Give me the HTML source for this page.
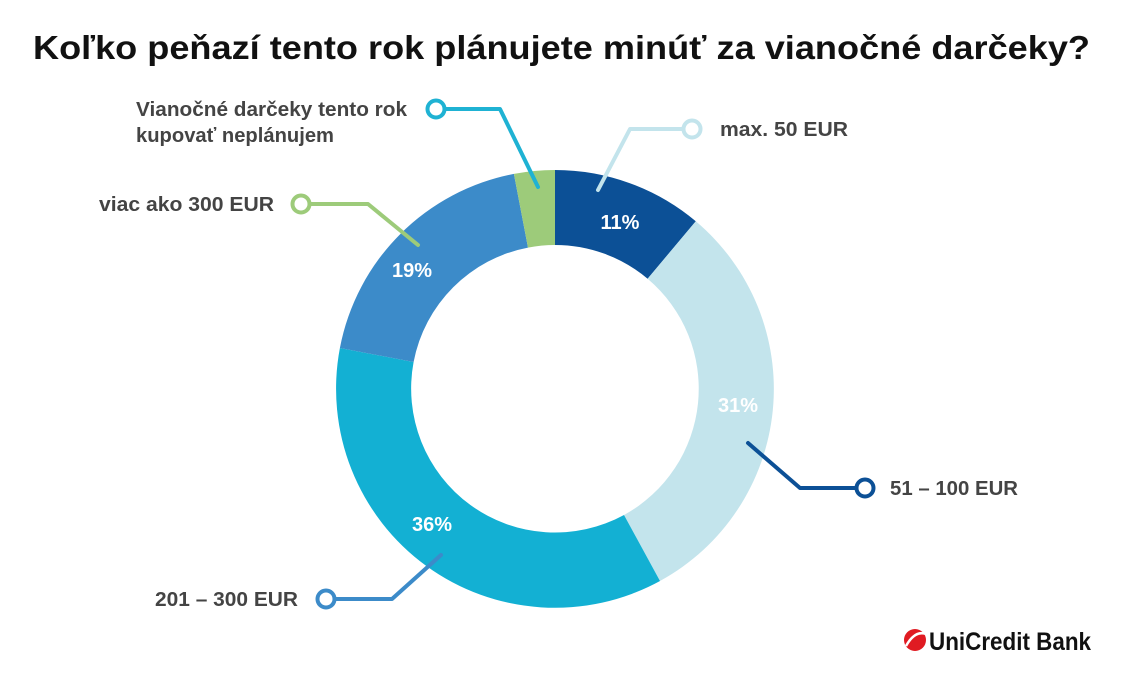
<!DOCTYPE html>
<html><head><meta charset="utf-8"><style>
html,body{margin:0;padding:0;background:#fff;}
body{width:1147px;height:679px;overflow:hidden;font-family:"Liberation Sans",sans-serif;}
</style></head><body>
<svg width="1147" height="679" xmlns="http://www.w3.org/2000/svg" font-family="Liberation Sans, sans-serif">
<text x="33" y="59" font-size="33" font-weight="bold" fill="#111" textLength="1057" lengthAdjust="spacingAndGlyphs">Koľko peňazí tento rok plánujete minúť za vianočné darčeky?</text>
<path d="M555,170 A219,219 0 0 1 695.8,221.3 L647.6,278.7 A144,144 0 0 0 555,245 Z" fill="#0c5096"/>
<path d="M695.8,221.3 A219,219 0 0 1 660,581 L624,515 A144,144 0 0 0 647.6,278.7 Z" fill="#c3e4ec"/>
<path d="M660,581 A219,219 0 0 1 339.9,348 L413.6,362 A144,144 0 0 0 624,515 Z" fill="#13b0d3"/>
<path d="M339.9,348 A219,219 0 0 1 513.9,173.9 L528,247.6 A144,144 0 0 0 413.6,362 Z" fill="#3c8bc9"/>
<path d="M513.9,173.9 A219,219 0 0 1 555,170 L555,245 A144,144 0 0 0 528,247.6 Z" fill="#9dcb7a"/>
<g font-size="20" font-weight="bold" fill="#fff" text-anchor="middle">
<text x="620" y="229">11%</text><text x="412" y="277">19%</text>
<text x="738" y="412">31%</text><text x="432" y="531">36%</text></g>
<g fill="none" stroke-width="4" stroke-linecap="round" stroke-linejoin="round">
<polyline points="445,109 500,109 538,187" stroke="#1fb2d3"/><circle cx="436" cy="109" r="8.5" fill="#fff" stroke="#1fb2d3"/>
<polyline points="683,129 630,129 598,190" stroke="#c3e4ec"/><circle cx="692" cy="129" r="8.5" fill="#fff" stroke="#c3e4ec"/>
<polyline points="310,204 368,204 418,245" stroke="#9dcb7a"/><circle cx="301" cy="204" r="8.5" fill="#fff" stroke="#9dcb7a"/>
<polyline points="856,488 800,488 748,443" stroke="#0c5096"/><circle cx="865" cy="488" r="8.5" fill="#fff" stroke="#0c5096"/>
<polyline points="335,599 392,599 441,555" stroke="#3c8bc9"/><circle cx="326" cy="599" r="8.5" fill="#fff" stroke="#3c8bc9"/>
</g>
<g font-size="20" font-weight="bold" fill="#444" lengthAdjust="spacingAndGlyphs">
<text x="136" y="116" textLength="271" lengthAdjust="spacingAndGlyphs">Vianočné darčeky tento rok</text>
<text x="136" y="142" textLength="198" lengthAdjust="spacingAndGlyphs">kupovať neplánujem</text>
<text x="720" y="136" textLength="128" lengthAdjust="spacingAndGlyphs">max. 50 EUR</text>
<text x="99" y="211" textLength="175" lengthAdjust="spacingAndGlyphs">viac ako 300 EUR</text>
<text x="890" y="495" textLength="128" lengthAdjust="spacingAndGlyphs">51 – 100 EUR</text>
<text x="155" y="606" textLength="143" lengthAdjust="spacingAndGlyphs">201 – 300 EUR</text>
</g>
<circle cx="915" cy="640" r="11" fill="#e01b22"/>
<path d="M906,646 Q915,630 926,634" stroke="#fff" stroke-width="2.5" fill="none"/>
<text x="929" y="650" font-size="25" font-weight="bold" fill="#111" textLength="162" lengthAdjust="spacingAndGlyphs">UniCredit Bank</text>
</svg>
</body></html>
